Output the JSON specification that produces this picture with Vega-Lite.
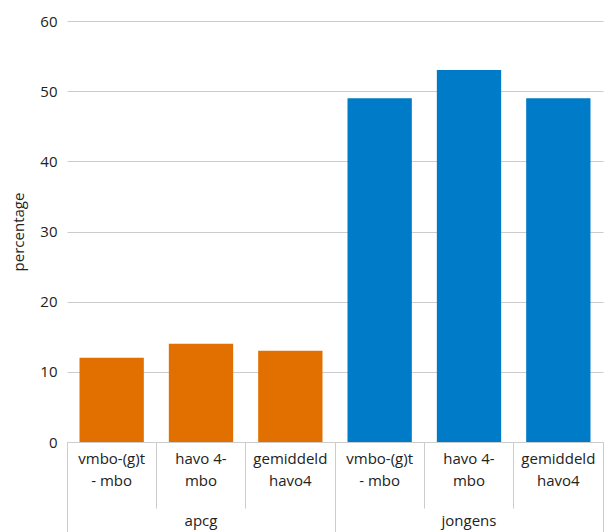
{
  "$schema": "https://vega.github.io/schema/vega-lite/v6.json",
  "width": 536,
  "height": 421,
  "autosize": "none",
  "padding": {"left": 67, "top": 21, "right": 3, "bottom": 90},
  "background": "white",
  "config": {
    "font": "Open Sans",
    "view": {"stroke": null},
    "axis": {"labelFont": "Open Sans", "titleFont": "Open Sans", "labelColor": "#222", "titleColor": "#222"}
  },
  "data": {
    "values": [
      {"key": "apcg|vmbo-(g)t|- mbo", "group": "apcg", "value": 12},
      {"key": "apcg|havo 4-|mbo", "group": "apcg", "value": 14},
      {"key": "apcg|gemiddeld|havo4", "group": "apcg", "value": 13},
      {"key": "jongens|vmbo-(g)t|- mbo", "group": "jongens", "value": 49},
      {"key": "jongens|havo 4-|mbo", "group": "jongens", "value": 53},
      {"key": "jongens|gemiddeld|havo4", "group": "jongens", "value": 49}
    ]
  },
  "encoding": {
    "y": {
      "field": "value",
      "type": "quantitative",
      "scale": {"domain": [0, 60]},
      "axis": {
        "title": "percentage",
        "titleFontSize": 15,
        "titleFontWeight": "normal",
        "titlePadding": 13,
        "values": [0, 10, 20, 30, 40, 50, 60],
        "labelFontSize": 15,
        "labelPadding": 10,
        "domain": false,
        "ticks": false,
        "grid": true,
        "gridColor": "#cccccc"
      }
    }
  },
  "layer": [
    {
      "mark": {"type": "bar"},
      "encoding": {
        "x": {
          "field": "key",
          "type": "nominal",
          "sort": null,
          "scale": {"paddingInner": 0.28, "paddingOuter": 0.14},
          "axis": {
            "title": null,
            "orient": "bottom",
            "labelAngle": 0,
            "labelExpr": "slice(split(datum.label, '|'), 1)",
            "labelFontSize": 15,
            "labelLineHeight": 22,
            "labelPadding": -57,
            "bandPosition": -0.19444,
            "tickSize": 66,
            "tickColor": "#cccccc",
            "domainColor": "#cccccc"
          }
        },
        "color": {
          "field": "group",
          "type": "nominal",
          "scale": {"domain": ["apcg", "jongens"], "range": ["#E17000", "#007BC7"]},
          "legend": null
        }
      }
    },
    {
      "mark": {"type": "bar", "opacity": 0},
      "encoding": {
        "x": {
          "field": "group",
          "type": "nominal",
          "sort": null,
          "scale": {"paddingInner": 0, "paddingOuter": 0},
          "axis": {
            "title": null,
            "orient": "bottom",
            "labelAngle": 0,
            "labelFontSize": 15,
            "labelPadding": -19,
            "bandPosition": 0,
            "tickSize": 90,
            "tickColor": "#cccccc",
            "domain": false
          }
        }
      }
    },
    {
      "mark": {"type": "bar", "opacity": 0},
      "encoding": {
        "x": {
          "field": "group",
          "type": "nominal",
          "sort": null,
          "scale": {"paddingInner": 0, "paddingOuter": 0},
          "axis": {
            "title": null,
            "orient": "bottom",
            "labels": false,
            "bandPosition": 1,
            "tickSize": 90,
            "tickColor": "#cccccc",
            "domain": false
          }
        }
      }
    }
  ],
  "resolve": {"scale": {"x": "independent"}, "axis": {"x": "independent"}}
}
